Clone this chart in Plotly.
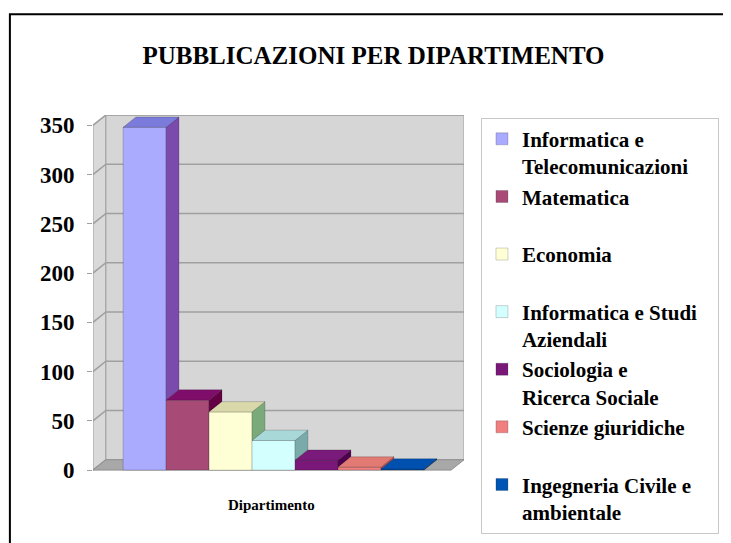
import plotly.graph_objects as go

# Dati
dipartimenti = [
    "Informatica e<br>Telecomunicazioni",
    "Matematica<br> ",
    "Economia<br> ",
    "Informatica e Studi\u00a0\u00a0\u00a0<br>Aziendali",
    "Sociologia e<br>Ricerca Sociale",
    "Scienze giuridiche<br> ",
    "Ingegneria Civile e<br>ambientale",
]
pubblicazioni = [348, 71, 59, 30, 10, 3, 1]
tick_vals = [0, 50, 100, 150, 200, 250, 300, 350]

# colori delle facce (fronte, sopra, lato)
col_front = ["#aaaaff", "#a84a76", "#ffffd6", "#d4ffff", "#7a187a", "#f08080", "#0054b4"]
col_top = ["#7b7bdb", "#7e0e6a", "#d8d8aa", "#a8d8d8", "#7a1a7a", "#e07a72", "#0050b0"]
col_side = ["#7a4aac", "#660044", "#7aaa7a", "#7aaaaa", "#4e004e", "#c05050", "#003c88"]

FONT = "Liberation Serif"
DX, DY = 0.3, 10.5          # profondità prospettica
X0, X1 = -1.2, 7.13         # pavimento (bordo anteriore)
YMAX = 350

fig = go.Figure()

# pareti e pavimento sotto le barre
shapes = []
grid = "#a0a0a0"
shapes.append(dict(type="path", layer="below", xref="x", yref="y",
                   path=f"M{X0},0 L{X0+DX},{DY} L{X0+DX},{YMAX+DY} L{X0},{YMAX} Z",
                   fillcolor="#d9d9d9", line=dict(color=grid, width=1)))
shapes.append(dict(type="path", layer="below", xref="x", yref="y",
                   path=f"M{X0+DX},{DY} L{X1+DX},{DY} L{X1+DX},{YMAX+DY} L{X0+DX},{YMAX+DY} Z",
                   fillcolor="#d6d6d6", line=dict(color=grid, width=1)))
for v in tick_vals:
    shapes.append(dict(type="path", layer="below", xref="x", yref="y",
                       path=f"M{X0},{v} L{X0+DX},{v+DY} L{X1+DX},{v+DY}",
                       line=dict(color=grid, width=1.6)))
shapes.append(dict(type="path", layer="below", xref="x", yref="y",
                   path=f"M{X0},0 L{X1},0 L{X1+DX},{DY} L{X0+DX},{DY} Z",
                   fillcolor="#a8a8a8", line=dict(color="#909090", width=1)))
# cornice esterna
shapes.append(dict(type="rect", xref="paper", yref="paper",
                   x0=-0.224, y0=-0.5, x1=1.8, y1=1.279,
                   line=dict(color="black", width=2)))

# facce frontali (barre)
for i, (nome, v) in enumerate(zip(dipartimenti, pubblicazioni)):
    fig.add_trace(go.Bar(
        x=[i], y=[v], width=1, name=nome, legendgroup=str(i),
        marker=dict(color=col_front[i], line=dict(color="rgba(0,0,0,0.3)", width=0.6)),
        hoverinfo="skip",
    ))

# facce laterali e superiori
n = len(pubblicazioni)
for i, v in enumerate(pubblicazioni):
    nxt = pubblicazioni[i + 1] if i + 1 < n else 0
    base = min(nxt, v)
    xs = [i + 0.5, i + 0.5 + DX, i + 0.5 + DX, i + 0.5, i + 0.5]
    ys = [base, base + DY, v + DY, v, base]
    fig.add_trace(go.Scatter(x=xs, y=ys, mode="lines", fill="toself",
                             fillcolor=col_side[i], line=dict(color="rgba(0,0,0,0.3)", width=0.6),
                             showlegend=False, hoverinfo="skip"))
    xt = [i - 0.5, i + 0.5, i + 0.5 + DX, i - 0.5 + DX, i - 0.5]
    yt = [v, v, v + DY, v + DY, v]
    fig.add_trace(go.Scatter(x=xt, y=yt, mode="lines", fill="toself",
                             fillcolor=col_top[i], line=dict(color="rgba(0,0,0,0.3)", width=0.6),
                             showlegend=False, hoverinfo="skip"))

fig.update_layout(
    width=731, height=543,
    margin=dict(l=85.3, r=274.5, t=107, b=74.6, autoexpand=False),
    paper_bgcolor="white", plot_bgcolor="rgba(0,0,0,0)",
    shapes=shapes,
    showlegend=True,
    title=dict(text="<b>PUBBLICAZIONI PER DIPARTIMENTO</b>", x=0.5, xanchor="center",
               y=0.913, yanchor="middle", yref="container",
               font=dict(family=FONT, size=25, color="black")),
    xaxis=dict(range=[X0, X1 + DX], visible=False, fixedrange=True),
    yaxis=dict(range=[-6, YMAX + DY], tickvals=tick_vals, showgrid=False, zeroline=False,
               showline=False, ticks="outside", ticklen=5, tickcolor="#a0a0a0",
               ticklabelstandoff=8,
               tickfont=dict(family=FONT, size=23, color="black", weight="bold")),
    legend=dict(xref="container", yref="container", x=0.647, xanchor="left",
                y=0.798, yanchor="top", valign="top",
                bordercolor="#c8c8c8", borderwidth=1, bgcolor="white",
                tracegroupgap=0, maxheight=520,
                font=dict(family=FONT, size=21, color="black", weight="bold")),
    annotations=[dict(text="<b>Dipartimento</b>", xref="paper", yref="paper",
                      x=0.481, y=-0.079, xanchor="center", yanchor="middle",
                      showarrow=False, font=dict(family=FONT, size=15, color="black"))],
)

fig.write_html("out.html")
